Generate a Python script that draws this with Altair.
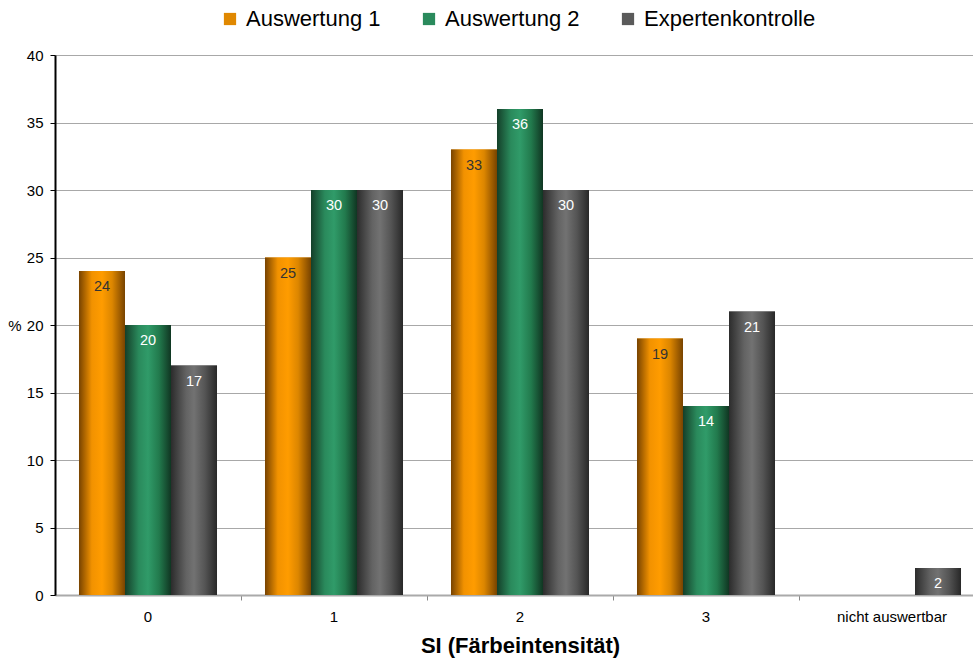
import altair as alt
import pandas as pd

categories = ["0", "1", "2", "3", "nicht auswertbar"]
series_names = ["Auswertung 1", "Auswertung 2", "Expertenkontrolle"]
auswertung1 = [24, 25, 33, 19, None]
auswertung2 = [20, 30, 36, 14, None]
experten = [17, 30, 30, 21, 2]
y_ticks = [0, 5, 10, 15, 20, 25, 30, 35, 40]

rows = []
for name, vals in zip(series_names, [auswertung1, auswertung2, experten]):
    for c, v in zip(categories, vals):
        if v is not None:
            rows.append({"cat": c, "series": name, "value": v})
df = pd.DataFrame(rows)

FONT = "Liberation Sans"

def grad(stops):
    return {"gradient": "linear", "x1": 0, "x2": 1, "y1": 0, "y2": 0,
            "stops": [{"offset": o, "color": c} for o, c in stops]}

gradients = {
    "Auswertung 1": grad([(0, "#784300"), (0.28, "#f29200"), (0.5, "#ff9c00"),
                          (0.72, "#dc8600"), (1, "#784300")]),
    "Auswertung 2": grad([(0, "#143f29"), (0.3, "#2a8a5c"), (0.5, "#309b69"),
                          (0.74, "#227a4d"), (1, "#103622")]),
    "Expertenkontrolle": grad([(0, "#2c2c2c"), (0.33, "#636363"), (0.5, "#727272"),
                               (0.74, "#545454"), (1, "#282828")]),
}
base_colors = ["#e08800", "#2a8a5c", "#5a5a5a"]

x_enc = alt.X("cat:N", sort=categories, title="SI (Färbeintensität)",
              scale=alt.Scale(domain=categories, range=[0, 930],
                              paddingInner=0.258, paddingOuter=0.129),
              axis=alt.Axis(labelAngle=0, bandPosition=1.174,
                            labelFontSize=15, labelColor="#000", labelFont=FONT,
                            labelPadding=9, tickSize=5, tickColor="#888",
                            domainColor="#aaaaaa", domainWidth=2,
                            titleFont=FONT, titleFontSize=22, titleFontWeight="bold",
                            titleColor="#000", titlePadding=11, grid=False))
xo_enc = alt.XOffset("series:N", sort=series_names,
                     scale=alt.Scale(domain=series_names, paddingInner=0, paddingOuter=0))
y_enc = alt.Y("value:Q", title="%",
              scale=alt.Scale(domain=[0, 40], nice=False),
              axis=alt.Axis(values=y_ticks, labelFontSize=15, labelColor="#000",
                            labelFont=FONT, labelPadding=7, tickSize=5, tickColor="#000",
                            domainColor="#000", domainWidth=2,
                            gridColor="#a8a8a8", gridWidth=1,
                            titleAngle=0, titleFont=FONT, titleFontSize=15,
                            titleFontWeight="normal", titleColor="#000",
                            titleX=-34, titleY=270, titleAlign="right",
                            titleBaseline="middle"))

base = alt.Chart(df).encode(x=x_enc, xOffset=xo_enc, y=y_enc)

legend_layer = base.mark_bar().encode(
    color=alt.Color("series:N", sort=series_names,
                    scale=alt.Scale(domain=series_names, range=base_colors),
                    legend=alt.Legend(title=None, orient="none", direction="horizontal",
                                      legendX=164, legendY=-47, columns=3,
                                      labelFont=FONT, labelFontSize=22, labelColor="#000",
                                      labelLimit=400,
                                      symbolType="square", symbolSize=150,
                                      symbolStrokeWidth=0, columnPadding=37,
                                      symbolOffset=0, labelOffset=5))
)

grad_layers = [
    base.transform_filter(alt.datum.series == s).mark_bar(color=gradients[s])
    for s in series_names
]

text_layer = base.mark_text(baseline="top", dy=9, font=FONT, fontSize=14.5).encode(
    text=alt.Text("value:Q"),
    color=alt.condition(alt.datum.series == "Auswertung 1",
                        alt.value("#333333"), alt.value("#ffffff")),
)

chart = alt.layer(legend_layer, *grad_layers, text_layer).properties(
    width=918, height=540,
    autosize=alt.AutoSizeParams(type="none"),
    padding={"left": 55, "top": 55, "right": 0, "bottom": 67},
).configure_view(stroke=None).configure(background="white")

chart.save("out.html", embed_options={"renderer": "svg", "actions": False})
